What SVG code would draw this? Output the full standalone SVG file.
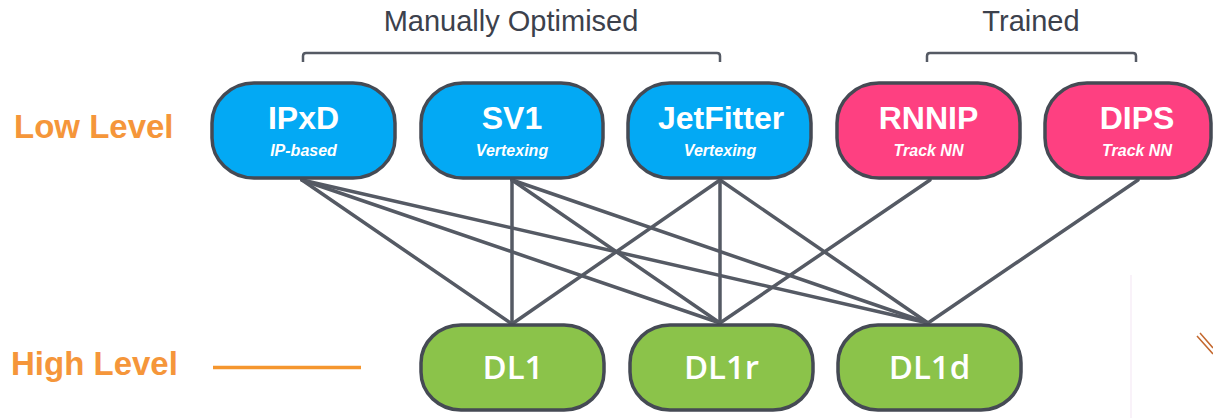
<svg xmlns="http://www.w3.org/2000/svg" width="1213" height="418" viewBox="0 0 1213 418">
<style>
.node rect{stroke:#454a54;stroke-width:3.500}
.blue rect{fill:#03a9f4}
.pink rect{fill:#fe4081}
.green rect{fill:#8bc34a}
.title{font-family:"Liberation Sans",Arial,sans-serif;font-weight:bold;font-size:32px;fill:#fff;text-anchor:middle}
.sub{font-family:"Liberation Sans",Arial,sans-serif;font-weight:bold;font-style:italic;font-size:16px;fill:#fff;text-anchor:middle}
.dl{font-family:"Open Sans","Liberation Sans",sans-serif;font-weight:600;font-size:33px;fill:#fff;text-anchor:middle}
.lvl{font-family:"Liberation Sans",Arial,sans-serif;font-weight:bold;font-size:33px;fill:#f5963a}
.grp{font-family:"Liberation Sans",Arial,sans-serif;font-size:29px;fill:#3c414c;text-anchor:middle}
.edge{stroke:#555a64;stroke-width:3.500;fill:none;stroke-linecap:round}
.brk{stroke:#555a64;stroke-width:2.500;fill:none;stroke-linejoin:round}
</style>
<rect width="1213" height="418" fill="#fff"/>
<line x1="1131" y1="275" x2="1131" y2="418" stroke="#f7eef7" stroke-width="1.500"/>
<path d="M1197,336 L1213,354 M1200,333 L1213,348" stroke="#c4682e" stroke-width="1.500" fill="none"/>
<g id="labels">
<text class="grp" x="511" y="31">Manually Optimised</text>
<text class="grp" x="1031" y="31">Trained</text>
<path class="brk" d="M303,62 L303,56 Q303,53 306,53 L717,53 Q720,53 720,56 L720,62"/>
<path class="brk" d="M927,62 L927,56 Q927,53 930,53 L1133,53 Q1136,53 1136,56 L1136,62"/>
<text class="lvl" x="14" y="138">Low Level</text>
<text class="lvl" x="11" y="375">High Level</text>
<line x1="213" y1="367.500" x2="361" y2="367.500" stroke="#f5962e" stroke-width="3.500"/>
</g>
<g id="connectors">
<line class="edge" x1="302" y1="180" x2="512" y2="324"/>
<line class="edge" x1="302" y1="180" x2="720" y2="323"/>
<line class="edge" x1="302" y1="180" x2="928" y2="323"/>
<line class="edge" x1="512" y1="180" x2="512" y2="324"/>
<line class="edge" x1="512" y1="180" x2="720" y2="323"/>
<line class="edge" x1="512" y1="180" x2="928" y2="323"/>
<line class="edge" x1="720" y1="180" x2="512" y2="324"/>
<line class="edge" x1="720" y1="180" x2="720" y2="323"/>
<line class="edge" x1="720" y1="180" x2="928" y2="323"/>
<line class="edge" x1="930" y1="180" x2="720" y2="323"/>
<line class="edge" x1="1138" y1="180" x2="928" y2="323"/>
</g>
<g id="IPxD" class="node blue"><rect x="212" y="83" width="183" height="95" rx="42" ry="40"/><text class="title" x="303.500" y="129">IPxD</text><text class="sub" x="303.500" y="156">IP-based</text></g>
<g id="SV1" class="node blue"><rect x="421" y="83" width="182" height="95" rx="42" ry="40"/><text class="title" x="512" y="129">SV1</text><text class="sub" x="512" y="156">Vertexing</text></g>
<g id="JetFitter" class="node blue"><rect x="628" y="83" width="183" height="95" rx="42" ry="40"/><text class="title" x="721" y="129">JetFitter</text><text class="sub" x="720" y="156">Vertexing</text></g>
<g id="RNNIP" class="node pink"><rect x="837" y="83" width="183" height="95" rx="42" ry="40"/><text class="title" x="928.500" y="129">RNNIP</text><text class="sub" x="928.500" y="156">Track NN</text></g>
<g id="DIPS" class="node pink"><rect x="1045" y="83" width="166" height="95" rx="42" ry="40"/><text class="title" x="1137" y="129">DIPS</text><text class="sub" x="1137" y="156">Track NN</text></g>
<g id="DL1" class="node green"><rect x="421" y="325" width="183" height="85" rx="40" ry="38"/><text class="dl" x="513" y="379">DL1</text></g>
<g id="DL1r" class="node green"><rect x="630" y="325" width="183" height="85" rx="40" ry="38"/><text class="dl" x="721.500" y="379">DL1r</text></g>
<g id="DL1d" class="node green"><rect x="838" y="325" width="183" height="85" rx="40" ry="38"/><text class="dl" x="929.500" y="379">DL1d</text></g>
</svg>
